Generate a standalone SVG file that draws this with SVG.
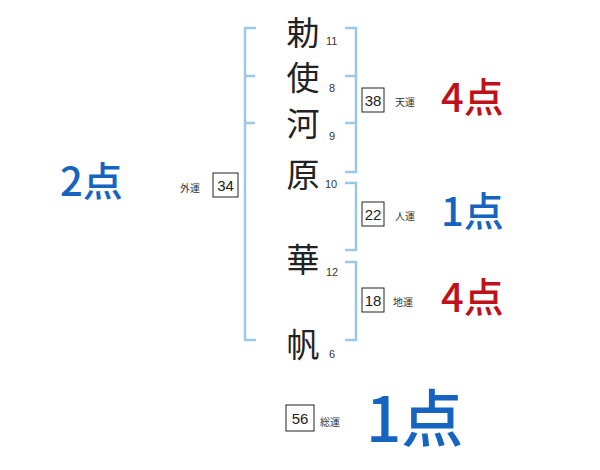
<svg xmlns="http://www.w3.org/2000/svg" width="600" height="470" viewBox="0 0 600 470">
<style>
.br{fill:none;stroke:#9cc8e8;stroke-width:2.5}
.ch{font-family:"Noto Sans CJK JP","Noto Sans",sans-serif;font-size:33px;fill:#222;text-anchor:middle}
.sn{font-family:"Liberation Sans",sans-serif;font-size:11px;fill:#333}
.bx{fill:#fff;stroke:#222;stroke-width:1}
.bn{font-family:"Liberation Sans",sans-serif;font-size:15px;fill:#222;text-anchor:middle}
.lb{font-family:"Noto Sans CJK JP",sans-serif;font-size:10px;fill:#333}
.pt{font-family:"Noto Sans CJK JP",sans-serif;font-weight:500}
.red{fill:#c0101a}
.blue{fill:#1565c0}
</style>
<rect width="600" height="470" fill="#fff"/>
<g id="connectors">
<path class="br" d="M256,28H245V340H256M245,76H255M245,123H255"/>
<path class="br" d="M345,28H356V172H345M345,76H356M345,123H356"/>
<path class="br" d="M345,183H356V250H345"/>
<path class="br" d="M345,262H356V340H345"/>
</g>
<g id="name">
<text class="ch" x="303" y="45">勅</text>
<text class="ch" x="303" y="90">使</text>
<text class="ch" x="303" y="136">河</text>
<text class="ch" x="303" y="187">原</text>
<text class="ch" x="303" y="272">華</text>
<text class="ch" x="303" y="357">帆</text>
<text class="sn" x="326" y="45">11</text>
<text class="sn" x="329" y="92">8</text>
<text class="sn" x="329" y="140">9</text>
<text class="sn" x="325" y="188">10</text>
<text class="sn" x="326" y="276">12</text>
<text class="sn" x="329" y="358">6</text>
</g>
<g id="tenun">
<rect class="bx" x="362" y="88" width="22" height="24"/>
<text class="bn" x="373" y="106">38</text>
<text class="lb" x="395" y="106">天運</text>
<text class="pt red" x="441" y="112" font-size="40">4点</text>
</g>
<g id="jinun">
<rect class="bx" x="362" y="202" width="22" height="24"/>
<text class="bn" x="373" y="220">22</text>
<text class="lb" x="395" y="220">人運</text>
<text class="pt blue" x="441" y="226" font-size="40">1点</text>
</g>
<g id="chiun">
<rect class="bx" x="362" y="288" width="22" height="24"/>
<text class="bn" x="373" y="306">18</text>
<text class="lb" x="393" y="306">地運</text>
<text class="pt red" x="441" y="312" font-size="40">4点</text>
</g>
<g id="gaiun">
<rect class="bx" x="213" y="173" width="25" height="24"/>
<text class="bn" x="225.5" y="191">34</text>
<text class="lb" x="180" y="192">外運</text>
<text class="pt blue" x="60" y="196" font-size="40">2点</text>
</g>
<g id="souun">
<rect class="bx" x="286" y="405" width="28" height="26"/>
<text class="bn" x="300" y="424">56</text>
<text class="lb" x="320" y="426">総運</text>
<text class="pt blue" x="366" y="442" font-size="62">1点</text>
</g>
</svg>
